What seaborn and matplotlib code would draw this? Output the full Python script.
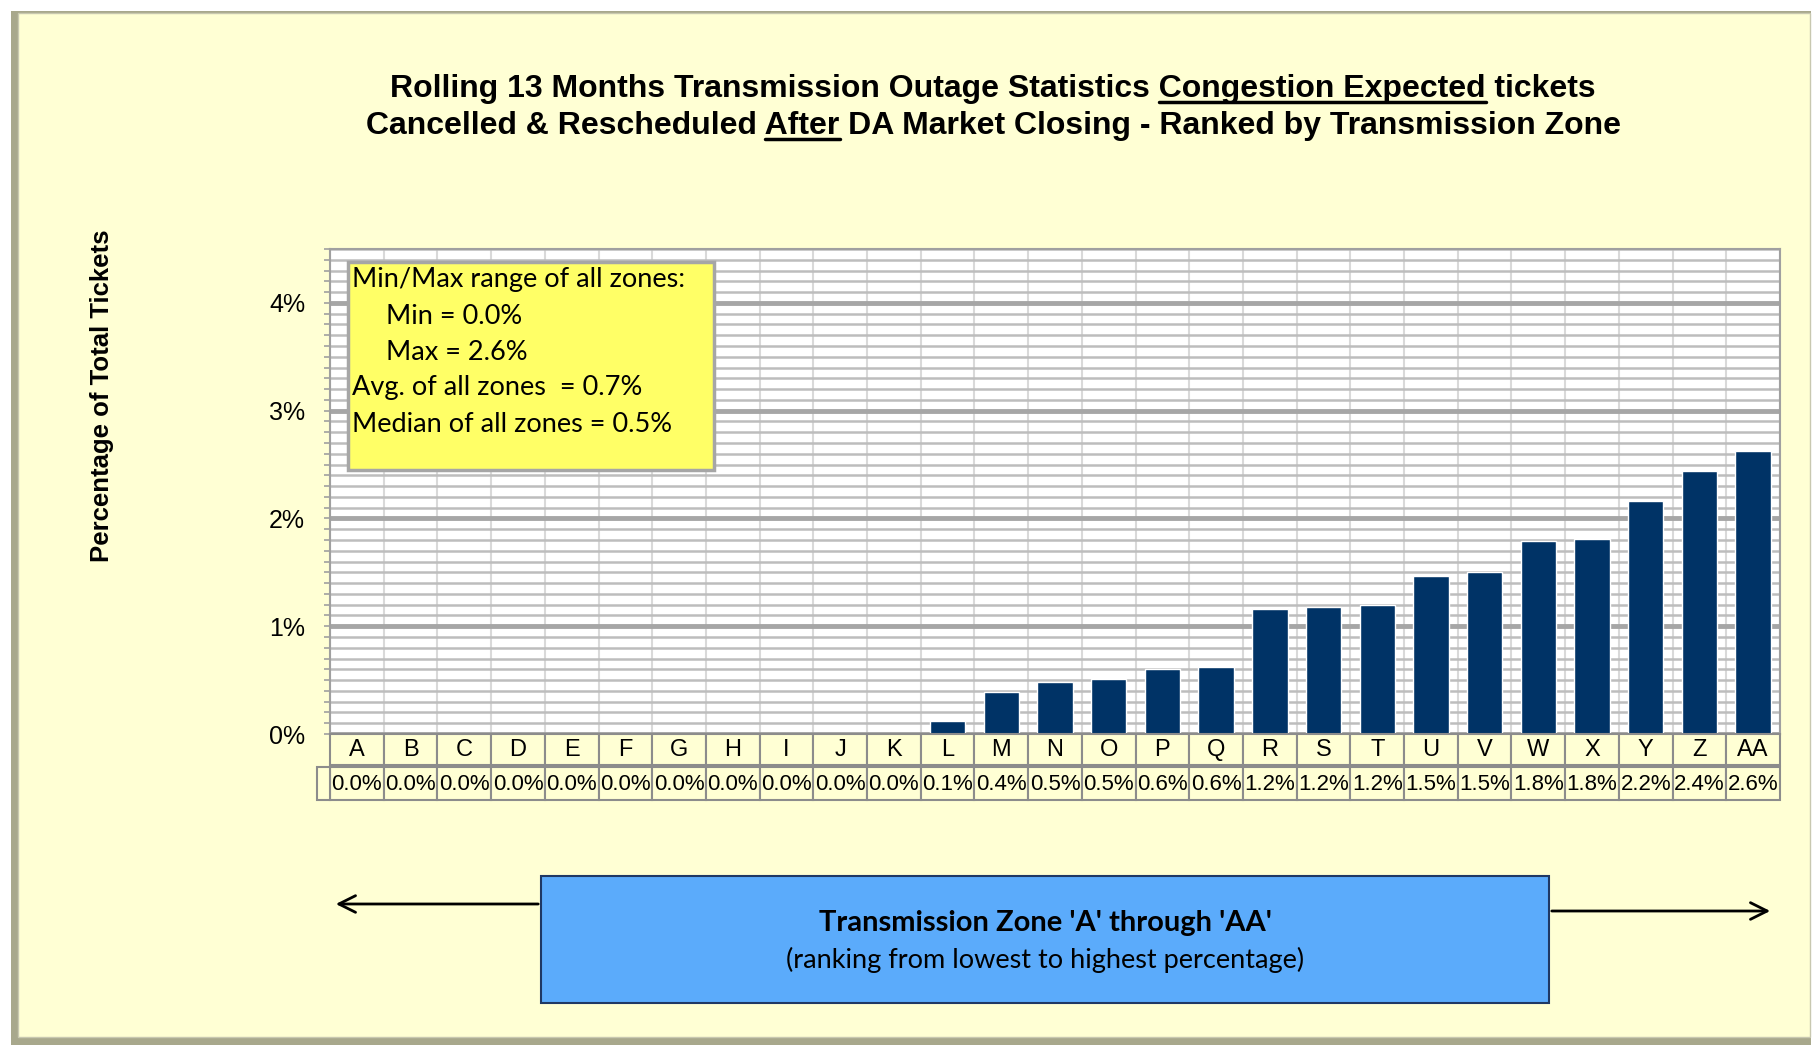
import numpy as np
import pandas as pd
import matplotlib
matplotlib.use("Agg")
import matplotlib.pyplot as plt
from matplotlib.patches import Rectangle, FancyArrowPatch
import seaborn as sns

# ── data ─────────────────────────────────────────────────────────────────────
zones = ['A', 'B', 'C', 'D', 'E', 'F', 'G', 'H', 'I', 'J', 'K', 'L', 'M', 'N',
         'O', 'P', 'Q', 'R', 'S', 'T', 'U', 'V', 'W', 'X', 'Y', 'Z', 'AA']
pct = [0.0, 0.0, 0.0, 0.0, 0.0, 0.0, 0.0, 0.0, 0.0, 0.0, 0.0, 0.12, 0.39, 0.48,
       0.51, 0.60, 0.62, 1.16, 1.18, 1.20, 1.47, 1.50, 1.79, 1.81, 2.16, 2.44, 2.63]
y_ticks = [0, 1, 2, 3, 4]
y_tick_labels = ['0%', '1%', '2%', '3%', '4%']

title_1 = [("Rolling 13 Months Transmission Outage Statistics ", False),
           ("Congestion Expected", True), (" tickets", False)]
title_2 = [("Cancelled & Rescheduled ", False), ("After", True),
           (" DA Market Closing - Ranked by Transmission Zone", False)]

W, H = 1818, 1048
BG = '#FFFFD4'
NAVY = '#003366'
ARIAL = ['Liberation Sans', 'DejaVu Sans']
CALIBRI = ['Lato', 'DejaVu Sans']

sns.set_theme(style='white')
plt.rcParams['font.family'] = ARIAL
plt.rcParams['text.color'] = 'black'
plt.rcParams['axes.labelcolor'] = 'black'
plt.rcParams['ytick.color'] = 'black'
plt.rcParams['xtick.color'] = 'black'


def fx(x):
    return x / W


def fy(y):
    return 1 - y / H


fig = plt.figure(figsize=(W / 100, H / 100), dpi=100, facecolor='white')

# ── frame / background ───────────────────────────────────────────────────────
fig.add_artist(Rectangle((fx(11), fy(1045)), fx(1811) - fx(11), fy(11) - fy(1045),
                         transform=fig.transFigure, fc='#A8A88C', ec='none', zorder=-3))
fig.add_artist(Rectangle((fx(18), fy(1037)), fx(1810) - fx(18), fy(13) - fy(1037),
                         transform=fig.transFigure, fc=BG, ec='#C8C8B0', lw=1, zorder=-2))

# ── bars ─────────────────────────────────────────────────────────────────────
ax = fig.add_axes([fx(330), fy(734), (1780 - 330) / W, (734 - 249) / H])
ax.set_facecolor('white')
df = pd.DataFrame({'zone': zones, 'pct': pct})
sns.barplot(data=df, x='zone', y='pct', color=NAVY, saturation=1, width=0.66,
            ax=ax, zorder=3)
ax.set_xlim(-0.5, len(zones) - 0.5)
ax.set_ylim(0, 4.5)
ax.set_yticks(y_ticks)
ax.set_yticklabels(y_tick_labels)
ax.set_yticks(np.arange(0, 4.51, 0.1), minor=True)
ax.set_xticks([])
ax.set_xticks(np.arange(-0.5, len(zones), 1), minor=True)
ax.set_axisbelow(True)
ax.grid(which='minor', axis='x', color='#D9D9D9', lw=1.5)
ax.grid(which='minor', axis='y', color='#BDBDBD', lw=1.8)
ax.grid(which='major', axis='y', color='#A6A6A6', lw=3.5)
ax.set_xlabel('')
ax.set_ylabel('')
ax.tick_params(axis='y', which='both', left=True, length=4, width=1.2,
               color='#A0A0A0', labelsize=18, labelcolor='black', pad=14)
ax.tick_params(axis='x', which='both', bottom=False)
for s in ax.spines.values():
    s.set_color('#A0A0A0')
    s.set_linewidth(1.5)

fig.text(fx(102), fy(396), 'Percentage of Total Tickets', rotation=90,
         weight='bold', size=18.5, ha='center', va='center')

# ── data table under the bars ────────────────────────────────────────────────
tax = fig.add_axes([fx(330), fy(800), 1450 / W, 66 / H])
tax.set_xlim(-0.5, len(zones) - 0.5)
tax.set_ylim(66, 0)
tax.axis('off')
for i, (z, v) in enumerate(zip(zones, pct)):
    tax.add_patch(Rectangle((i - 0.5, 0), 1, 31, fc=BG, ec='#8C8C8C', lw=1.5, clip_on=False))
    tax.add_patch(Rectangle((i - 0.5, 33), 1, 33, fc=BG, ec='#8C8C8C', lw=1.5, clip_on=False))
    tax.text(i, 16, z, ha='center', va='center', size=17)
    tax.text(i, 50, f'{v:.1f}%', ha='center', va='center', size=16)
tax.add_patch(Rectangle((-0.74, 33), 0.24, 33, fc=BG, ec='#8C8C8C', lw=1.5, clip_on=False))

# ── stats box ────────────────────────────────────────────────────────────────
vals = np.array(pct)
fig.add_artist(Rectangle((fx(348), fy(470)), 366 / W, 208 / H, transform=fig.transFigure,
                         fc='#FFFF66', ec='#A6A6A6', lw=2.5, zorder=5))
stats = [(352, 279, 'Min/Max range of all zones:'),
         (386, 316, f'Min = {vals.min():.1f}%'),
         (386, 352, f'Max = {vals.max():.1f}%'),
         (352, 388, f'Avg. of all zones  = {vals.mean():.1f}%'),
         (352, 424, f'Median of all zones = {np.median(vals):.1f}%')]
for x, y, s in stats:
    fig.text(fx(x), fy(y), s, ha='left', va='center', size=19.5, family=CALIBRI, zorder=6)

# ── bottom box + arrows ──────────────────────────────────────────────────────
fig.add_artist(Rectangle((fx(541), fy(1003)), (1549 - 541) / W, (1003 - 876) / H,
                         transform=fig.transFigure, fc='#5BABFB', ec='#1F3864', lw=1.5))
fig.text(fx(1045), fy(923), "Transmission Zone 'A' through 'AA'", ha='center', va='center',
         size=21, weight='bold', family=CALIBRI)
fig.text(fx(1045), fy(960), "(ranking from lowest to highest percentage)", ha='center',
         va='center', size=19.5, family=CALIBRI)
fig.add_artist(FancyArrowPatch((fx(541), fy(904)), (fx(333), fy(904)), transform=fig.transFigure,
                               arrowstyle='->', mutation_scale=30, lw=2, color='black'))
fig.add_artist(FancyArrowPatch((fx(1549), fy(911)), (fx(1773), fy(911)), transform=fig.transFigure,
                               arrowstyle='->', mutation_scale=30, lw=2, color='black'))

# ── title with underlined parts ──────────────────────────────────────────────
renderer = fig.canvas.get_renderer()


def text_width(s, **kw):
    t = fig.text(0, 0, s, **kw)
    w = t.get_window_extent(renderer).width
    t.remove()
    return w


def title_line(parts, cx, base_y, size):
    kw = dict(size=size, weight='bold')
    full = ''.join(p for p, _ in parts)
    t = fig.text(fx(cx), fy(base_y), full, ha='center', va='baseline', **kw)
    x0 = t.get_window_extent(renderer).x0
    bar_w = text_width('|', **kw)
    prefix = ''
    for p, ul in parts:
        if ul:
            start = x0 + text_width(prefix + '|', **kw) - bar_w
            end = start + text_width(p, **kw)
            yy = fy(base_y + 5)
            fig.add_artist(plt.Line2D([start / W, end / W], [yy, yy], transform=fig.transFigure,
                                      color='black', lw=2.5))
        prefix += p


title_line(title_1, 993, 97, 23)
title_line(title_2, 993, 134, 23)

fig.savefig('out.png', dpi=100, facecolor='white')
